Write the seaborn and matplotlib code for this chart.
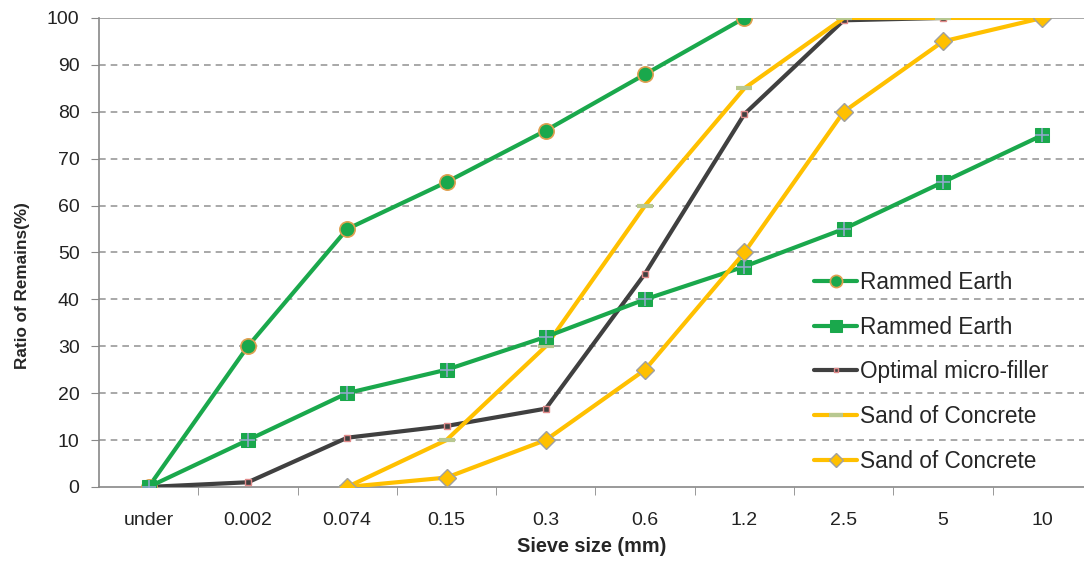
import numpy as np
import pandas as pd
import matplotlib
matplotlib.use("Agg")
import matplotlib.pyplot as plt
import seaborn as sns

# sieve sizes (categorical x axis)
sieves = ["under", "0.002", "0.074", "0.15", "0.3", "0.6", "1.2", "2.5", "5", "10"]

# passing ratio (%) per series (None = no point)
rammed_circle = [0, 30, 55, 65, 76, 88, 100, None, None, None]
rammed_square = [0, 10, 20, 25, 32, 40, 47, 55, 65, 75]
micro_filler = [0, 1, 10.5, 13, 16.7, 45.5, 79.5, 99.5, 100, None]
sand_dash = [None, None, 0, 10, 30, 60, 85, 100, 100, 100]
sand_diamond = [None, None, 0, 2, 10, 25, 50, 80, 95, 100]

GREEN = "#1aa84c"
DARK = "#404040"
YELLOW = "#ffc000"

sns.set_style("white")
plt.rcParams["font.family"] = ["Liberation Sans", "DejaVu Sans"]


def frame(vals):
    d = pd.DataFrame({"x": np.arange(len(sieves)), "y": vals})
    return d.dropna()


fig = plt.figure(figsize=(10.84, 5.61), dpi=100)
ax = fig.add_axes([0.0913, 0.132, 0.9087, 0.836])

# background grid
for v in range(10, 100, 10):
    ax.axhline(v, color="#999999", lw=1.2, ls=(0, (4, 3)), zorder=0)
ax.axhline(100, color="#999999", lw=1.2, zorder=0)

sns.lineplot(data=frame(rammed_circle), x="x", y="y", ax=ax, color=GREEN, lw=3,
             marker="o", markersize=11, markerfacecolor=GREEN,
             markeredgecolor="#e0a050", markeredgewidth=1.2, label="Rammed Earth", zorder=5)
sns.lineplot(data=frame(rammed_square), x="x", y="y", ax=ax, color=GREEN, lw=3,
             marker="s", markersize=10, markerfacecolor=GREEN,
             markeredgecolor=GREEN, label="Rammed Earth", zorder=5)
sq = frame(rammed_square)
sns.scatterplot(x=sq["x"], y=sq["y"], ax=ax, marker="+", s=90, color="#8fa8c8",
                linewidth=1.2, zorder=6, legend=False)
sns.lineplot(data=frame(micro_filler), x="x", y="y", ax=ax, color=DARK, lw=3,
             marker="s", markersize=4, markerfacecolor=DARK,
             markeredgecolor="#e08a8a", markeredgewidth=1, label="Optimal micro-filler", zorder=4)
sns.lineplot(data=frame(sand_dash), x="x", y="y", ax=ax, color=YELLOW, lw=3,
             marker="_", markersize=12, markeredgecolor="#b8c890",
             markeredgewidth=3, label="Sand of Concrete", zorder=4)
sns.lineplot(data=frame(sand_diamond), x="x", y="y", ax=ax, color=YELLOW, lw=3,
             marker="D", markersize=9, markerfacecolor=YELLOW,
             markeredgecolor="#a0a0a0", markeredgewidth=1, label="Sand of Concrete", zorder=5)

ax.set_xlim(-0.5, 9.42)
ax.set_ylim(0, 100)
ax.set_yticks(range(0, 101, 10))
ax.set_xticks(range(len(sieves)))
ax.set_xticklabels(sieves)
ax.set_xticks(np.arange(0.5, 9.5, 1), minor=True)
ax.tick_params(axis="x", which="major", length=0, pad=18, labelsize=14, colors="#222222")
ax.tick_params(axis="x", which="minor", length=6, color="#888888", direction="out", bottom=True)
ax.tick_params(axis="y", length=6, color="#888888", direction="out", left=True,
               labelsize=14, colors="#222222", pad=8)

for s in ["top", "right"]:
    ax.spines[s].set_visible(False)
for s in ["left", "bottom"]:
    ax.spines[s].set_color("#888888")
    ax.spines[s].set_linewidth(1.2)

ax.set_xlabel("Sieve size (mm)", fontsize=14.3, fontweight="bold", labelpad=6)
ax.set_ylabel("Ratio of Remains(%)", fontsize=12.3, fontweight="bold")
ax.yaxis.set_label_coords(-0.07, 0.43)

ax.legend(loc="upper left", bbox_to_anchor=(0.717, 0.48), frameon=False,
          fontsize=16.3, labelspacing=0.96, handlelength=1.9, handletextpad=0.1,
          borderaxespad=0, markerscale=0.8)

fig.savefig("out.png", dpi=100)
